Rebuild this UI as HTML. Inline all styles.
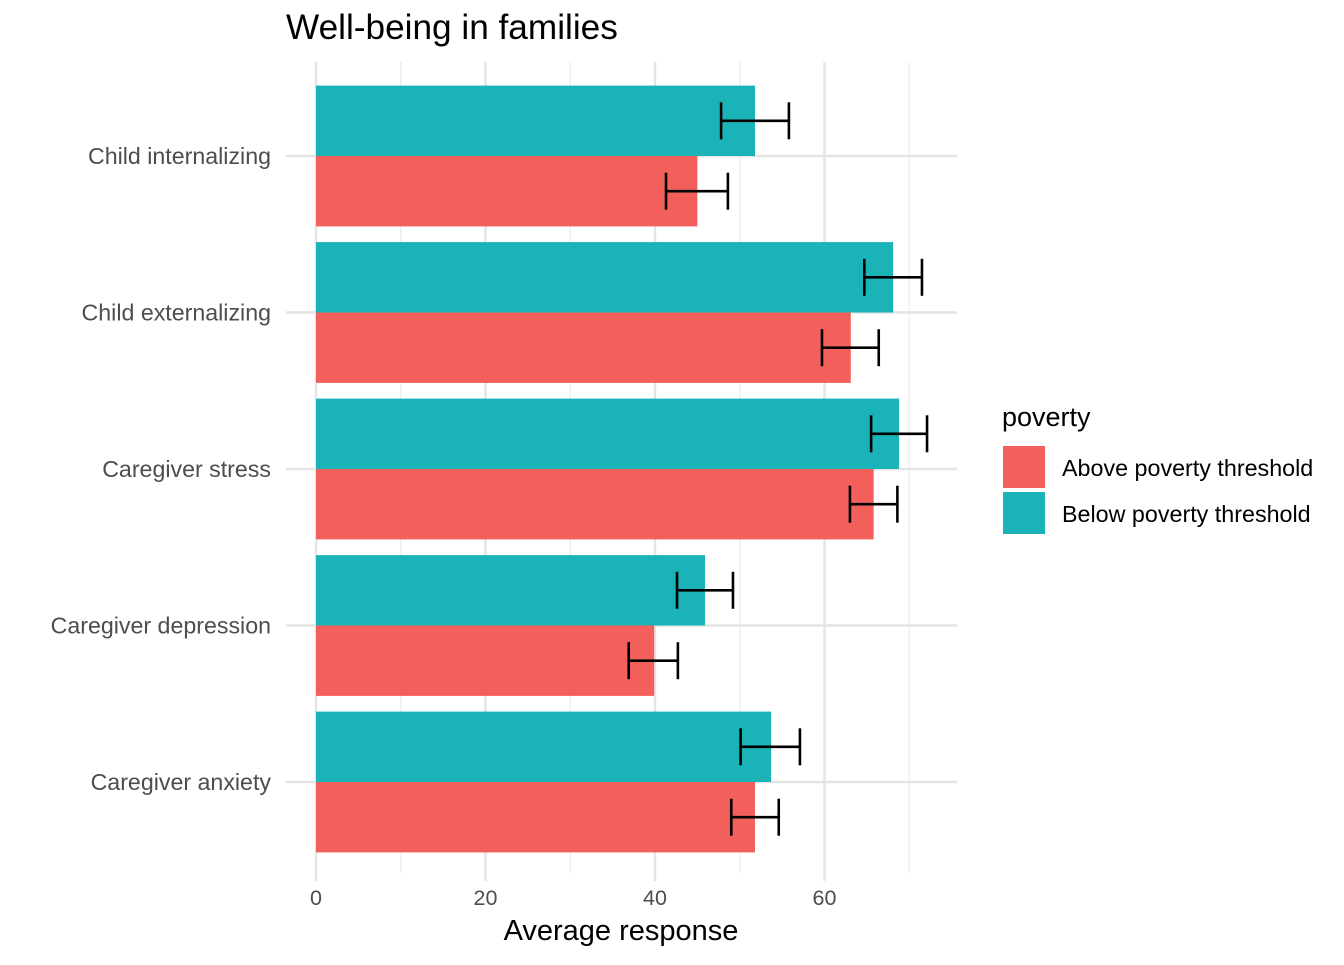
<!DOCTYPE html>
<html><head><meta charset="utf-8"><style>
body{margin:0;background:#fff;font-family:"Liberation Sans",Arial,sans-serif}
</style></head><body>
<svg id="chart" width="1344" height="960" xmlns="http://www.w3.org/2000/svg">
<text x="286" y="39" font-size="35.2" fill="#000">Well-being in families</text>
<g id="grid"></g><g id="bars"></g><g id="axes"></g>
<text x="621" y="940" font-size="29" text-anchor="middle" fill="#000">Average response</text>
<g>
<text x="1002" y="426" font-size="27" fill="#000">poverty</text>
<rect x="1003" y="446" width="42" height="42" fill="#F35F5B"/>
<text x="1062" y="476" font-size="23.3" fill="#000">Above poverty threshold</text>
<rect x="1003" y="492" width="42" height="42" fill="#1AB4B8"/>
<text x="1062" y="522" font-size="23.3" fill="#000">Below poverty threshold</text>
</g>
</svg>
<script>
const categories=["Child internalizing","Child externalizing","Caregiver stress","Caregiver depression","Caregiver anxiety"];
const aboveValues=[45.0,63.1,65.8,39.9,51.8];
const aboveLow=[41.3,59.7,63.0,36.9,49.0];
const aboveHigh=[48.6,66.4,68.6,42.7,54.6];
const belowValues=[51.8,68.1,68.8,45.9,53.7];
const belowLow=[47.8,64.7,65.5,42.6,50.1];
const belowHigh=[55.8,71.5,72.1,49.2,57.1];
const xTicks=[0,20,40,60];
const xMinor=[10,30,50,70];
const NS="http://www.w3.org/2000/svg";
const x0=316,pxPer=8.475,panelTop=62,panelBottom=873,panelRight=957;
const X=v=>x0+v*pxPer;
const Yc=i=>156+i*156.5;
const bh=70.4;
function mk(t,a,p){const e=document.createElementNS(NS,t);for(const k in a)e.setAttribute(k,a[k]);p.appendChild(e);return e;}
const grid=document.getElementById('grid'),bars=document.getElementById('bars'),axes=document.getElementById('axes');
xMinor.forEach(v=>{const l=mk('line',{x1:X(v),x2:X(v),y1:panelTop,y2:panelBottom,stroke:'#ebebeb','stroke-width':1.2},grid);

});
xTicks.forEach(v=>{const l=mk('line',{x1:X(v),x2:X(v),y1:panelTop,y2:panelBottom,stroke:'#e4e4e4','stroke-width':2.4},grid);


const tk=mk('line',{x1:X(v),x2:X(v),y1:panelBottom,y2:panelBottom+8,stroke:'#e4e4e4','stroke-width':2.4},axes);


const t=mk('text',{x:X(v),y:905,'font-size':21.5,'text-anchor':'middle',fill:'#4d4d4d'},axes);t.textContent=v;

});
categories.forEach((c,i)=>{const y=Yc(i);
const l=mk('line',{x1:286,x2:panelRight,y1:y,y2:y,stroke:'#e4e4e4','stroke-width':2.4},grid);


const t=mk('text',{x:271,y:y+8,'font-size':23.2,'text-anchor':'end',fill:'#4d4d4d'},axes);t.textContent=c;


const series=[[belowValues,belowLow,belowHigh,'#1AB4B8',y-bh,'below'],[aboveValues,aboveLow,aboveHigh,'#F35F5B',y,'above']];
series.forEach(s=>{const r=mk('rect',{x:X(0),y:s[4],width:X(s[0][i])-X(0),height:bh,fill:s[3]},bars);


const cy=s[4]+bh/2,h=18.5;
const g=mk('g',{stroke:'#000','stroke-width':2.6,fill:'none'},bars);


mk('line',{x1:X(s[1][i]),x2:X(s[2][i]),y1:cy,y2:cy},g);
mk('line',{x1:X(s[1][i]),x2:X(s[1][i]),y1:cy-h,y2:cy+h},g);
mk('line',{x1:X(s[2][i]),x2:X(s[2][i]),y1:cy-h,y2:cy+h},g);});
});
</script>
</body></html>
